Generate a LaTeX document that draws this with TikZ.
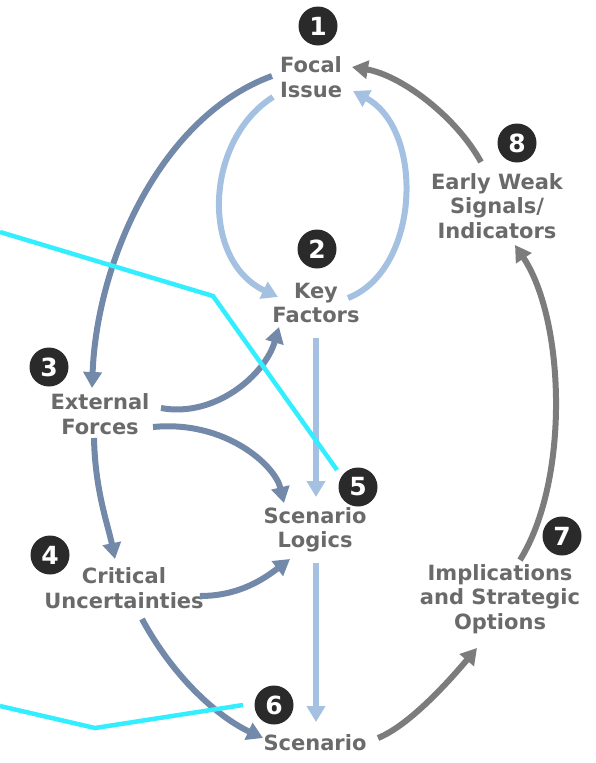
\documentclass[tikz,border=0pt]{standalone}
\usepackage{fontspec}
\setmainfont{DejaVu Sans}
\usepackage{tikz}
\usetikzlibrary{positioning,arrows.meta,calc}
\usepackage{xcolor}
\definecolor{slateblue}{HTML}{7389A9}
\definecolor{paleblue}{HTML}{A4C1E2}
\definecolor{midgrey}{HTML}{7C7C7C}
\definecolor{textgrey}{HTML}{6A6A6A}
\definecolor{badgeblack}{HTML}{2A2A2A}
\definecolor{markcyan}{HTML}{33EEFF}

\begin{document}
\begin{tikzpicture}[
    x=1pt, y=1pt,
    stageText/.style={align=center, inner sep=2pt, text=textgrey, font=\fontsize{21}{24.5}\selectfont\bfseries},
    badge/.style={circle, fill=badgeblack, minimum size=39pt, inner sep=0pt, text=white, font=\fontsize{25}{25}\selectfont\bfseries},
    darkArrow/.style={-{Triangle[length=16pt,width=18pt]}, line width=6pt, draw=slateblue},
    lightArrow/.style={-{Triangle[length=16pt,width=18pt]}, line width=6pt, draw=paleblue},
    greyArrow/.style={-{Triangle[length=16pt,width=18pt]}, line width=6pt, draw=midgrey},
    markLine/.style={line width=4.5pt, draw=markcyan}
]
    \useasboundingbox (0,0) rectangle (596,-763);

    % Stage nodes
    \node[stageText] (focal) at (311,-77) {Focal\\Issue};
    \node[stageText] (keyf) at (316,-303) {Key\\Factors};
    \node[stageText] (external) at (100,-414) {External\\Forces};
    \node[stageText] (critical) at (124,-588) {Critical\\Uncertainties};
    \node[stageText] (logics) at (315,-530) {Scenario\\Logics};
    \node[stageText] (scenario) at (315,-743) {Scenario};
    \node[stageText] (impl) at (500,-599) {Implications\\and Strategic\\Options};
    \node[stageText] (early) at (497,-206) {Early Weak\\Signals/\\Indicators};

    % Number badges
    \node[badge] (b1) at (318,-26) {1};
    \node[badge] (b2) at (317,-249) {2};
    \node[badge] (b3) at (49,-367) {3};
    \node[badge] (b4) at (50,-555) {4};
    \node[badge] (b5) at (358,-487) {5};
    \node[badge] (b6) at (274,-705) {6};
    \node[badge] (b7) at (562,-536) {7};
    \node[badge] (b8) at (517,-143) {8};

    % Inner loop
    \draw[darkArrow] ([shift={(-39,1)}]focal.center) .. controls +(-110,-40) and +(5,129) .. ([shift={(-8,26)}]external.center);
    \draw[lightArrow] ([shift={(-38,-20)}]focal.center) .. controls +(-68,-43) and +(-78,37) .. ([shift={(-38,6)}]keyf.center);
    \draw[lightArrow] ([shift={(32,5)}]keyf.center) .. controls +(72,28) and +(72,-39) .. ([shift={(42,-14)}]focal.center);
    \draw[greyArrow] ([shift={(-16,44)}]early.center) .. controls +(-26,47) and +(48,-8) .. ([shift={(41,10)}]focal.center);

    % Vertical flow
    \draw[lightArrow] ([shift={(0,-35)}]keyf.center) -- ([shift={(1,33)}]logics.center);
    \draw[lightArrow] ([shift={(1,-33)}]logics.center) -- ([shift={(1,21)}]scenario.center);

    % Forces and uncertainties
    \draw[darkArrow] ([shift={(61,6)}]external.center) .. controls +(54,-10) and +(-14,-48) .. ([shift={(-37,-24)}]keyf.center);
    \draw[darkArrow] ([shift={(53,-13)}]external.center) .. controls +(72,7) and +(-9,38) .. ([shift={(-31,27)}]logics.center);
    \draw[darkArrow] ([shift={(-6,-24)}]external.center) .. controls +(1,-52) and +(-7,34) .. ([shift={(-9,29)}]critical.center);
    \draw[darkArrow] ([shift={(76,-8)}]critical.center) .. controls +(40,0) and +(-25,-19) .. ([shift={(-25,-29)}]logics.center);
    \draw[darkArrow] ([shift={(18,-31)}]critical.center) .. controls +(33,-61) and +(-43,20) .. ([shift={(-52,5)}]scenario.center);

    % Outer loop
    \draw[greyArrow] ([shift={(63,5)}]scenario.center) .. controls +(32,13) and +(-27,-32) .. ([shift={(-23,-49)}]impl.center);
    \draw[greyArrow] ([shift={(20,39)}]impl.center) .. controls +(50,80) and +(50,-75) .. ([shift={(18,-39)}]early.center);

    % Cyan marks
    \coordinate (m1) at (0,-232);
    \coordinate (m2) at (213,-296);
    \coordinate (m3) at (337,-470);
    \coordinate (m4) at (0,-706);
    \coordinate (m5) at (95,-728);
    \coordinate (m6) at (243,-705);
    \draw[markLine] (m1) -- (m2) -- (m3);
    \draw[markLine] (m4) -- (m5) -- (m6);

\end{tikzpicture}
\end{document}
